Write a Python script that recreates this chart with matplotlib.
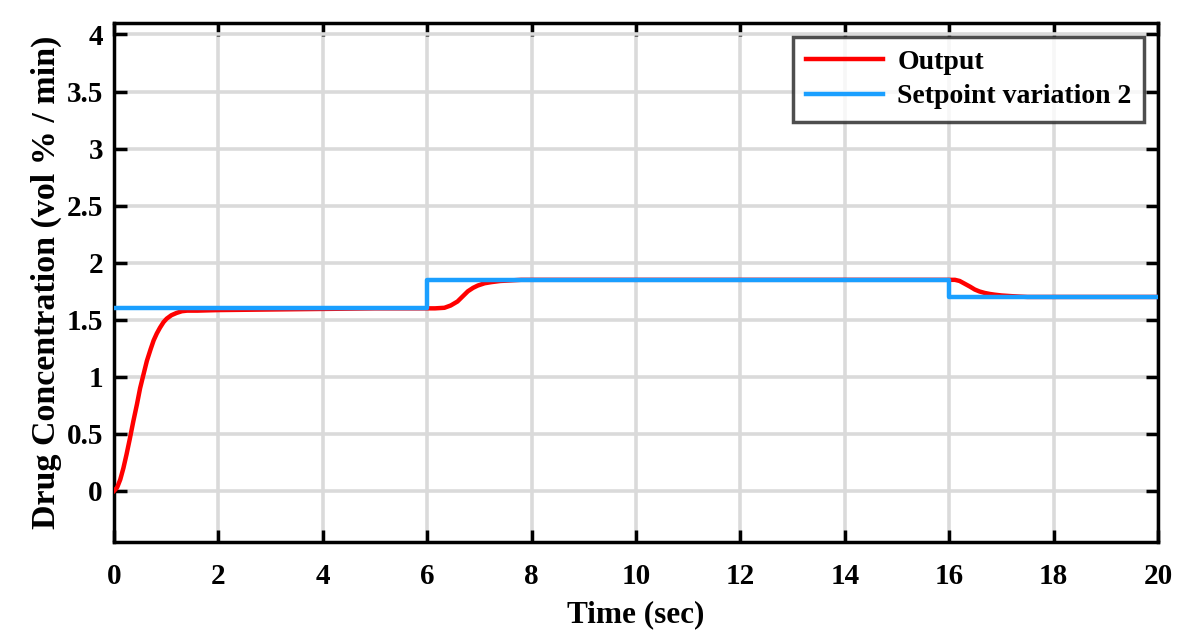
import matplotlib
matplotlib.use("Agg")
import matplotlib.pyplot as plt

# Setpoint variation 2 (step signal)
sp_t = [0, 6, 6, 16, 16, 20]
sp_y = [1.60, 1.60, 1.85, 1.85, 1.70, 1.70]

# Output response
out_t = [0.0, 0.06, 0.12, 0.18, 0.24, 0.30, 0.37, 0.44, 0.50, 0.57, 0.63, 0.70, 0.76, 0.82,
         0.88, 0.95, 1.01, 1.10, 1.20, 1.30, 1.40, 1.60, 2.0, 3.0, 4.0, 5.0, 6.0,
         6.15, 6.33, 6.45, 6.58, 6.68, 6.78, 6.88, 6.97, 7.10, 7.23, 7.40, 7.60, 7.80, 8.2,
         10.0, 12.0, 14.0, 16.0, 16.11, 16.20, 16.30, 16.40, 16.49, 16.58, 16.68, 16.78,
         16.87, 17.0, 17.19, 17.35, 17.5, 18.0, 20.0]
out_y = [0.0, 0.03, 0.10, 0.20, 0.32, 0.45, 0.61, 0.76, 0.90, 1.03, 1.14, 1.24, 1.32, 1.38,
         1.43, 1.48, 1.51, 1.54, 1.56, 1.575, 1.58, 1.58, 1.585, 1.59, 1.595, 1.60, 1.60,
         1.60, 1.605, 1.625, 1.66, 1.705, 1.75, 1.78, 1.80, 1.82, 1.83, 1.84, 1.845, 1.85, 1.85,
         1.85, 1.85, 1.85, 1.85, 1.85, 1.84, 1.815, 1.79, 1.765, 1.748, 1.735, 1.726,
         1.72, 1.713, 1.707, 1.703, 1.70, 1.70, 1.70]

x_ticks = [0, 2, 4, 6, 8, 10, 12, 14, 16, 18, 20]
y_ticks = [0, 0.5, 1, 1.5, 2, 2.5, 3, 3.5, 4]
y_tick_labels = ["0", "0.5", "1", "1.5", "2", "2.5", "3", "3.5", "4"]

plt.rcParams['font.family'] = ['Liberation Serif', 'DejaVu Serif']
plt.rcParams['font.weight'] = 'bold'

fig = plt.figure(figsize=(12, 6.41), dpi=100)
ax = fig.add_axes([0.095, 0.154, 0.870, 0.810])

ax.plot(out_t, out_y, color='#ff0000', lw=3.2, label='Output', zorder=3)
ax.plot(sp_t, sp_y, color='#1a9fff', lw=3.2, label='Setpoint variation 2', zorder=4)

ax.set_xlim(0, 20)
ax.set_ylim(-0.45, 4.1)
ax.set_xticks(x_ticks)
ax.set_yticks(y_ticks)
ax.set_yticklabels(y_tick_labels)
ax.grid(True, color='#dadada', lw=2.6)
ax.set_axisbelow(True)
ax.tick_params(direction='in', length=9, width=2.5, labelsize=21, top=True, right=True)
ax.tick_params(axis='x', pad=15)
ax.tick_params(axis='y', pad=8)
for lab in ax.get_xticklabels() + ax.get_yticklabels():
    lab.set_fontweight('bold')
for s in ax.spines.values():
    s.set_linewidth(2.5)

ax.set_xlabel('Time (sec)', fontsize=22.5, fontweight='bold', labelpad=7)
ax.set_ylabel('Drug Concentration (vol % / min)', fontsize=24.5, fontweight='bold', labelpad=3)

leg = ax.legend(loc='upper right', fontsize=20, frameon=True, fancybox=False,
                edgecolor='#222222', handlelength=2.8, borderaxespad=0.5,
                labelspacing=0.32, handletextpad=0.5, borderpad=0.45)
leg.get_frame().set_linewidth(2.5)
for t in leg.get_texts():
    t.set_fontweight('bold')

fig.savefig('out.png', dpi=100)
